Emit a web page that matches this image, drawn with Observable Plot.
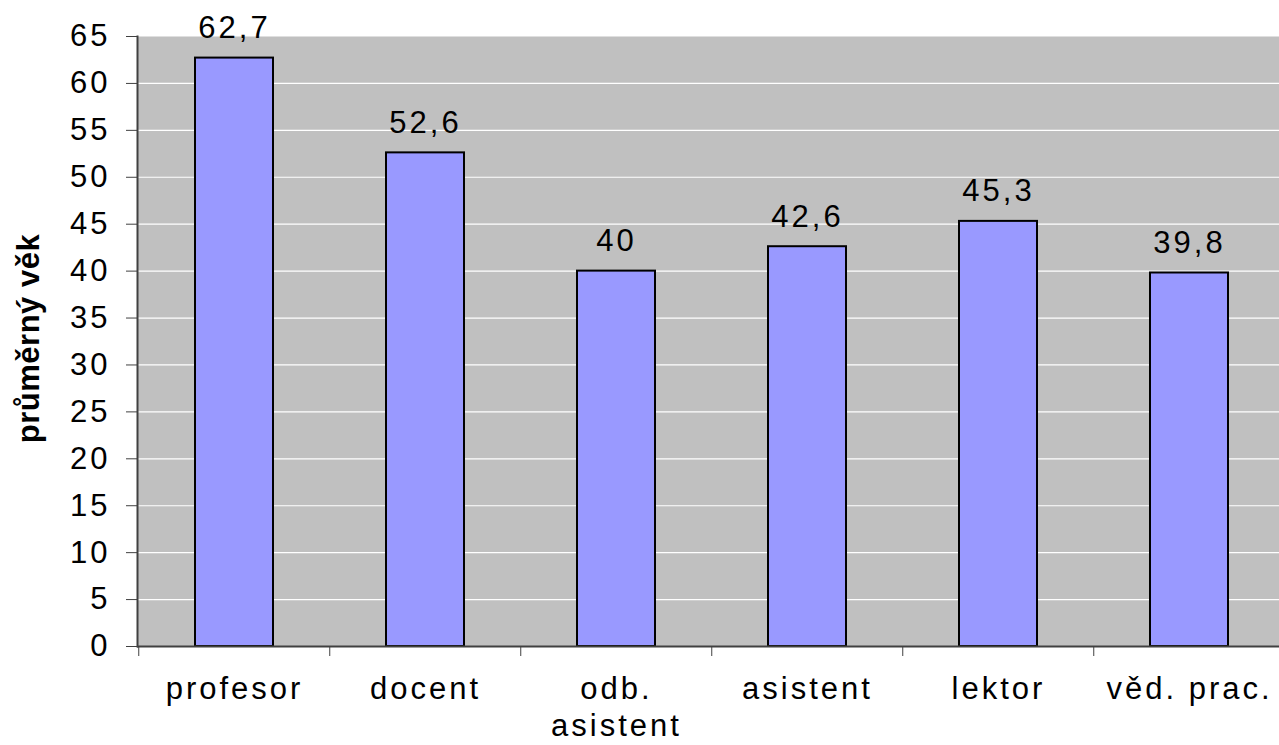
<!DOCTYPE html>
<html>
<head>
<meta charset="utf-8">
<script src="https://cdn.jsdelivr.net/npm/d3@7"></script>
<script src="https://cdn.jsdelivr.net/npm/@observablehq/plot@0.6"></script>
<style>
  html, body { margin: 0; padding: 0; background: white; overflow: hidden; }
  #chart svg { display: block; }
</style>
</head>
<body>
<div id="chart"></div>
<script>
const categories = ["profesor", "docent", "odb.\nasistent", "asistent", "lektor", "věd. prac."];
const values = [62.7, 52.6, 40, 42.6, 45.3, 39.8];
const valueLabels = ["62,7", "52,6", "40", "42,6", "45,3", "39,8"];
const yTicks = [0, 5, 10, 15, 20, 25, 30, 35, 40, 45, 50, 55, 60, 65];
const gridTicks = [5, 10, 15, 20, 25, 30, 35, 40, 45, 50, 55, 60];
const yTitle = ["průměrný věk"];

const data = categories.map((c, i) => ({cat: c, value: values[i], label: valueLabels[i]}));
const step = (1286 - 137) / categories.length;

const chart = Plot.plot({
  width: 1279,
  height: 745,
  marginLeft: 137,
  marginRight: 0,
  marginTop: 36,
  marginBottom: 99,
  style: {fontFamily: "'Liberation Sans', Arial, sans-serif", fontSize: "31px", letterSpacing: "3px", color: "black", background: "white"},
  x: {type: "band", domain: categories, range: [137, 1286], paddingInner: 0.594, paddingOuter: 0.297},
  y: {domain: [0, 65]},
  marks: [
    Plot.frame({fill: "#c0c0c0"}),
    Plot.ruleY(gridTicks, {stroke: "white", strokeWidth: 1.2}),
    Plot.barY(data, {x: "cat", y: "value", fill: "#9999ff", stroke: "black", strokeWidth: 2}),
    Plot.ruleY([0], {stroke: "#404040", strokeWidth: 2}),
    Plot.frame({anchor: "left", stroke: "#404040", strokeWidth: 2}),
    Plot.axisY({ticks: yTicks, tickSize: 11, tickPadding: 16, stroke: "#404040", label: null, fontSize: 31}),
    Plot.axisX({tickSize: 10, text: null, dx: -step / 2, stroke: "#404040", label: null}),
    Plot.axisX({tickSize: 0, tickPadding: 27, label: null, fontSize: 31, lineHeight: 1.18}),
    Plot.text(data, {x: "cat", y: "value", text: "label", dy: -30, fontSize: 31}),
    Plot.text(yTitle, {frameAnchor: "left", textAnchor: "middle", rotate: -90, dx: -108, dy: -3, fontWeight: "bold", fontSize: 31})
  ]
});
d3.select(chart).selectAll('g[font-weight="bold"]').attr("letter-spacing", "0.5px");
document.getElementById("chart").appendChild(chart);
</script>
</body>
</html>
